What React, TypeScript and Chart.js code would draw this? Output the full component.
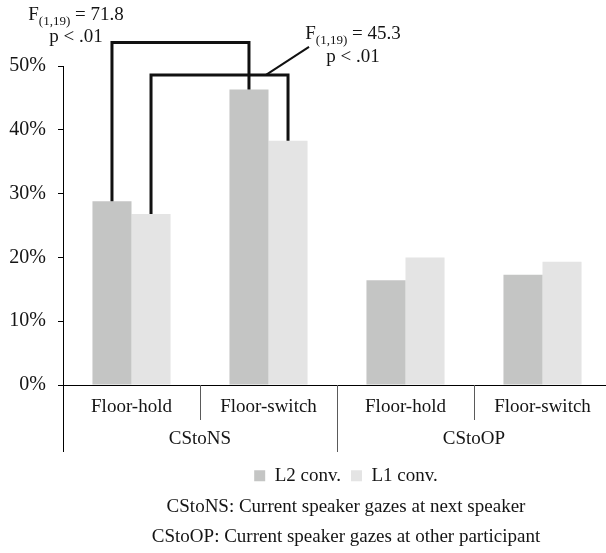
import React, { useEffect, useRef } from 'react';
import { Chart, registerables } from 'chart.js';

Chart.register(...registerables);

// ---------- data ----------
const categories = ['Floor-hold', 'Floor-switch', 'Floor-hold', 'Floor-switch'];
const groups = ['CStoNS', 'CStoOP'];
const seriesNames = ['L2 conv.', 'L1 conv.'];
const l2Values = [28.8, 46.3, 16.4, 17.3];
const l1Values = [26.8, 38.3, 20.0, 19.3];
const yTickValues = [0, 10, 20, 30, 40, 50];
const notes = [
  'CStoNS: Current speaker gazes at next speaker',
  'CStoOP: Current speaker gazes at other participant',
];
const statDf = ['(1,19)', '(1,19)'];
const statF = ['71.8', '45.3'];
const statP = ['p < .01', 'p < .01'];
const bracketLevels = [53.7, 48.6]; // value (%) at which each bracket's top runs

// ---------- styles ----------
const FONT = "'Liberation Serif', 'Times New Roman', Times, serif";
const TEXT = '#141414';
const L2_COLOR = '#c4c5c4';
const L1_COLOR = '#e4e4e4';

const annotPlugin = {
  id: 'annot',
  afterDraw(chart: any) {
    const ctx: CanvasRenderingContext2D = chart.ctx;
    const xs = chart.scales.x;
    const ys = chart.scales.y;
    const ca = chart.chartArea;
    const bottom = ca.bottom;
    ctx.save();

    // category dividers below the axis
    const half = (xs.getPixelForValue(1) - xs.getPixelForValue(0)) / 2;
    for (let i = 0; i <= categories.length; i++) {
      const px = Math.round(xs.getPixelForValue(0) - half + i * half * 2) + 0.5;
      const long = i % 2 === 0;
      ctx.beginPath();
      ctx.strokeStyle = i === 0 ? '#000' : '#5a5a5a';
      ctx.lineWidth = 1;
      ctx.moveTo(px, bottom);
      ctx.lineTo(px, bottom + (long ? 67 : 35));
      ctx.stroke();
    }

    // group labels
    ctx.fillStyle = TEXT;
    ctx.font = `19px ${FONT}`;
    ctx.textAlign = 'center';
    ctx.textBaseline = 'middle';
    groups.forEach((g, gi) => {
      const left = xs.getPixelForValue(gi * 2) - half;
      const right = xs.getPixelForValue(gi * 2 + 1) + half;
      ctx.fillText(g, (left + right) / 2, bottom + 54);
    });

    // brackets
    const tops: number[] = [];
    const rights: number[] = [];
    const lefts: number[] = [];
    bracketLevels.forEach((lvl, b) => {
      const bars = chart.getDatasetMeta(b).data;
      const x0 = bars[0].x;
      const y0 = bars[0].y;
      const x1 = bars[1].x;
      const y1 = bars[1].y;
      const top = ys.getPixelForValue(lvl);
      tops.push(top);
      lefts.push(x0);
      rights.push(x1);
      ctx.beginPath();
      ctx.strokeStyle = '#111';
      ctx.lineWidth = 3;
      ctx.lineJoin = 'miter';
      ctx.lineCap = 'butt';
      ctx.moveTo(x0, y0);
      ctx.lineTo(x0, top);
      ctx.lineTo(x1, top);
      ctx.lineTo(x1, y1);
      ctx.stroke();
    });

    // leader line for second stat
    ctx.beginPath();
    ctx.lineWidth = 2;
    ctx.moveTo(rights[1] - 22, tops[1]);
    ctx.lineTo(rights[1] + 21, tops[1] - 28);
    ctx.stroke();

    const drawStat = (i: number, cx: number, yF: number, yP: number) => {
      ctx.textBaseline = 'alphabetic';
      ctx.textAlign = 'left';
      ctx.font = `19px ${FONT}`;
      const wF = ctx.measureText('F').width;
      const rest = ` = ${statF[i]}`;
      const wR = ctx.measureText(rest).width;
      ctx.font = `13px ${FONT}`;
      const wD = ctx.measureText(statDf[i]).width;
      let x = cx - (wF + wD + wR) / 2;
      ctx.font = `19px ${FONT}`;
      ctx.fillText('F', x, yF);
      x += wF;
      ctx.font = `13px ${FONT}`;
      ctx.fillText(statDf[i], x, yF + 5);
      x += wD;
      ctx.font = `19px ${FONT}`;
      ctx.fillText(rest, x, yF);
      ctx.textAlign = 'center';
      ctx.fillText(statP[i], cx, yP);
    };
    ctx.fillStyle = TEXT;
    drawStat(0, lefts[0] - 36, tops[0] - 22, tops[0]);
    drawStat(1, rights[1] + 65, tops[1] - 36, tops[1] - 12.5);

    ctx.restore();
  },
};

export default function App() {
  const ref = useRef<HTMLCanvasElement>(null);

  useEffect(() => {
    const chart = new Chart(ref.current as HTMLCanvasElement, {
      type: 'bar',
      data: {
        labels: categories,
        datasets: [
          {
            label: seriesNames[0],
            data: l2Values,
            backgroundColor: L2_COLOR,
            borderWidth: 0,
            categoryPercentage: 0.57,
            barPercentage: 1.0,
          },
          {
            label: seriesNames[1],
            data: l1Values,
            backgroundColor: L1_COLOR,
            borderWidth: 0,
            categoryPercentage: 0.57,
            barPercentage: 1.0,
          },
        ],
      },
      options: {
        responsive: false,
        animation: false,
        devicePixelRatio: 1,
        layout: { padding: { top: 66, left: 0, right: 0, bottom: 0 } },
        scales: {
          x: {
            grid: { display: false, drawTicks: false },
            border: { display: true, color: '#000', width: 1 },
            ticks: {
              padding: 11,
              color: TEXT,
              font: { family: FONT, size: 19 },
              maxRotation: 0,
              autoSkip: false,
            },
            afterFit(s: any) {
              s.height = 71.3;
            },
          },
          y: {
            min: 0,
            max: 50,
            afterBuildTicks(s: any) {
              s.ticks = yTickValues.map((v) => ({ value: v }));
            },
            grid: {
              display: true,
              drawOnChartArea: false,
              drawTicks: true,
              tickLength: 5,
              color: '#000',
            },
            border: { display: true, color: '#000', width: 1 },
            ticks: {
              padding: 12,
              color: TEXT,
              font: { family: FONT, size: 20 },
              callback: (v: any) => `${v}%`,
            },
            afterFit(s: any) {
              s.width = 63;
            },
          },
          yRight: {
            type: 'linear',
            position: 'right',
            display: true,
            grid: { display: false, drawTicks: false },
            border: { display: false },
            ticks: { display: false },
            afterFit(s: any) {
              s.width = 81;
            },
          },
        },
        plugins: {
          legend: {
            position: 'bottom',
            labels: {
              boxWidth: 11,
              boxHeight: 11,
              padding: 10,
              color: TEXT,
              font: { family: FONT, size: 19 },
            },
          },
          subtitle: {
            display: true,
            position: 'bottom',
            text: notes[0],
            color: TEXT,
            font: { family: FONT, size: 19, weight: 'normal', lineHeight: 1 },
            padding: { top: 2, bottom: 7 },
          },
          title: {
            display: true,
            position: 'bottom',
            text: notes[1],
            color: TEXT,
            font: { family: FONT, size: 19, weight: 'normal', lineHeight: 1 },
            padding: { top: 4, bottom: 6.7 },
          },
          tooltip: { enabled: false },
        },
      } as any,
      plugins: [annotPlugin],
    });
    return () => chart.destroy();
  }, []);

  return (
    <div
      style={{
        position: 'absolute',
        left: 0,
        top: 0,
        width: 606,
        height: 553,
        overflow: 'hidden',
        background: '#fff',
      }}
    >
      <canvas ref={ref} width={692} height={553} style={{ display: 'block', width: 692, height: 553 }} />
    </div>
  );
}
